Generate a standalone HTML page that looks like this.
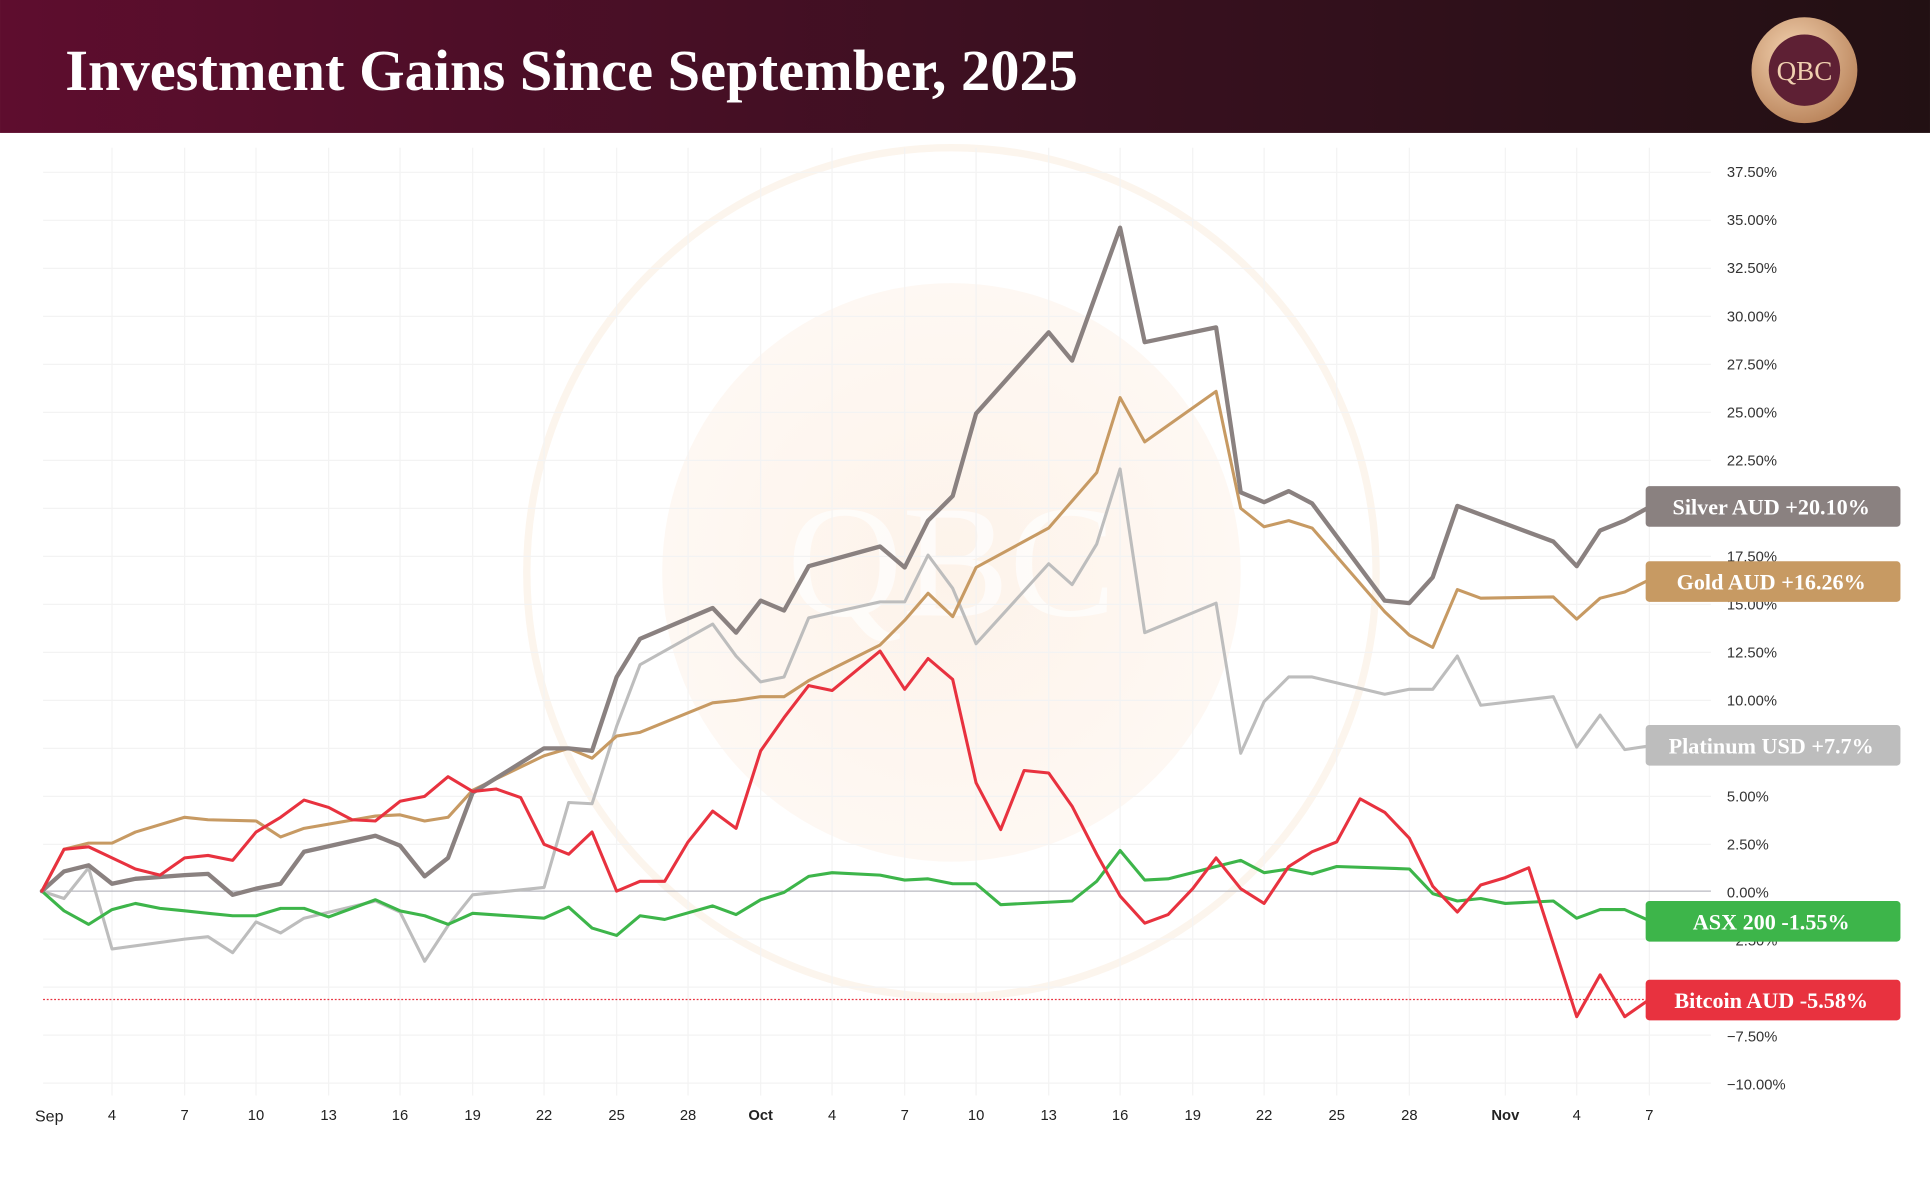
<!DOCTYPE html>
<html><head><meta charset="utf-8"><style>
html,body{margin:0;padding:0;background:#fff;}
svg{display:block;}
</style></head><body>
<svg width="1930" height="1181" viewBox="0 0 1568 959.5" xmlns="http://www.w3.org/2000/svg">
<defs>
<linearGradient id="hd" x1="0" x2="1" y1="0" y2="0">
<stop offset="0" stop-color="#5e0d2e"/><stop offset="0.55" stop-color="#3a1020"/><stop offset="1" stop-color="#221013"/>
</linearGradient>
<radialGradient id="gold" cx="0.4" cy="0.35" r="0.7">
<stop offset="0" stop-color="#f3d2b0"/><stop offset="1" stop-color="#b9835a"/>
</radialGradient>
<radialGradient id="wm" cx="0.5" cy="0.5" r="0.5">
<stop offset="0" stop-color="#fdf3ea"/><stop offset="1" stop-color="#fef8f3"/>
</radialGradient>
</defs>
<rect x="0" y="0" width="1568" height="959.5" fill="#fff"/>
<rect x="0" y="0" width="1568" height="108" fill="url(#hd)"/>
<text x="53" y="73" font-family="Liberation Serif, serif" font-weight="bold" font-size="47.5" fill="#fff">Investment Gains Since September, 2025</text>
<circle cx="1466" cy="57" r="43" fill="url(#gold)"/>
<circle cx="1466" cy="57" r="29" fill="#5e2034"/>
<text x="1466" y="65" text-anchor="middle" font-family="Liberation Serif, serif" font-size="22" fill="#f0d0b0">QBC</text>

<!-- watermark -->
<circle cx="773" cy="465" r="345" fill="none" stroke="#fcf5ed" stroke-width="6"/>
<circle cx="773" cy="465" r="235" fill="url(#wm)"/>
<text x="773" y="500" text-anchor="middle" font-family="Liberation Serif, serif" font-size="130" fill="#fff" opacity="0.7">QBC</text>

<!-- grid -->
<g stroke="#f3f3f3" stroke-width="1">
<line x1="35" x2="1390" y1="140" y2="140"/><line x1="35" x2="1390" y1="179" y2="179"/><line x1="35" x2="1390" y1="218" y2="218"/><line x1="35" x2="1390" y1="257" y2="257"/><line x1="35" x2="1390" y1="296" y2="296"/><line x1="35" x2="1390" y1="335" y2="335"/><line x1="35" x2="1390" y1="374" y2="374"/><line x1="35" x2="1390" y1="413" y2="413"/><line x1="35" x2="1390" y1="452" y2="452"/><line x1="35" x2="1390" y1="491" y2="491"/><line x1="35" x2="1390" y1="530" y2="530"/><line x1="35" x2="1390" y1="569" y2="569"/><line x1="35" x2="1390" y1="608" y2="608"/><line x1="35" x2="1390" y1="647" y2="647"/><line x1="35" x2="1390" y1="686" y2="686"/><line x1="35" x2="1390" y1="763" y2="763"/><line x1="35" x2="1390" y1="802" y2="802"/><line x1="35" x2="1390" y1="841" y2="841"/><line x1="35" x2="1390" y1="880" y2="880"/>
<line x1="91" x2="91" y1="120" y2="890"/><line x1="150" x2="150" y1="120" y2="890"/><line x1="208" x2="208" y1="120" y2="890"/><line x1="267" x2="267" y1="120" y2="890"/><line x1="325" x2="325" y1="120" y2="890"/><line x1="384" x2="384" y1="120" y2="890"/><line x1="442" x2="442" y1="120" y2="890"/><line x1="501" x2="501" y1="120" y2="890"/><line x1="559" x2="559" y1="120" y2="890"/><line x1="618" x2="618" y1="120" y2="890"/><line x1="676" x2="676" y1="120" y2="890"/><line x1="735" x2="735" y1="120" y2="890"/><line x1="793" x2="793" y1="120" y2="890"/><line x1="852" x2="852" y1="120" y2="890"/><line x1="910" x2="910" y1="120" y2="890"/><line x1="969" x2="969" y1="120" y2="890"/><line x1="1027" x2="1027" y1="120" y2="890"/><line x1="1086" x2="1086" y1="120" y2="890"/><line x1="1145" x2="1145" y1="120" y2="890"/><line x1="1223" x2="1223" y1="120" y2="890"/><line x1="1281" x2="1281" y1="120" y2="890"/><line x1="1340" x2="1340" y1="120" y2="890"/>
</g>
<line x1="35" x2="1390" y1="724" y2="724" stroke="#b8b8c0" stroke-width="1"/>
<line x1="35" x2="1390" y1="812" y2="812" stroke="#e8323f" stroke-width="1" stroke-dasharray="1.5,1.5"/>

<!-- y labels -->
<g font-family="Liberation Sans, sans-serif" font-size="12" fill="#333">
<text x="1403" y="144">37.50%</text><text x="1403" y="183">35.00%</text><text x="1403" y="222">32.50%</text><text x="1403" y="261">30.00%</text><text x="1403" y="300">27.50%</text><text x="1403" y="339">25.00%</text><text x="1403" y="378">22.50%</text><text x="1403" y="456">17.50%</text><text x="1403" y="495">15.00%</text><text x="1403" y="534">12.50%</text><text x="1403" y="573">10.00%</text><text x="1403" y="651">5.00%</text><text x="1403" y="690">2.50%</text><text x="1403" y="729">0.00%</text><text x="1403" y="768">−2.50%</text><text x="1403" y="846">−7.50%</text><text x="1403" y="885">−10.00%</text>
</g>
<!-- x labels -->
<g font-family="Liberation Sans, sans-serif" font-size="12" fill="#222" text-anchor="middle">
<text x="40" y="911" font-size="13">Sep</text><text x="91" y="910">4</text><text x="150" y="910">7</text><text x="208" y="910">10</text><text x="267" y="910">13</text><text x="325" y="910">16</text><text x="384" y="910">19</text><text x="442" y="910">22</text><text x="501" y="910">25</text><text x="559" y="910">28</text><text x="618" y="910" font-weight="bold">Oct</text><text x="676" y="910">4</text><text x="735" y="910">7</text><text x="793" y="910">10</text><text x="852" y="910">13</text><text x="910" y="910">16</text><text x="969" y="910">19</text><text x="1027" y="910">22</text><text x="1086" y="910">25</text><text x="1145" y="910">28</text><text x="1223" y="910" font-weight="bold">Nov</text><text x="1281" y="910">4</text><text x="1340" y="910">7</text>
</g>

<g fill="none" stroke-linejoin="round" stroke-linecap="round">
<polyline stroke="#bdbdbd" stroke-width="2.5" points="34,724 52,730 72,705 91,771 150,763 169,761 189,774 208,749 228,758 247,746 305,732 325,741 345,781 364,752 384,727 442,721 462,652 481,653 501,590 520,540 579,507 598,533 618,554 637,550 657,502 715,489 735,489 754,451 774,478 793,523 852,458 871,475 891,442 910,381 930,514 988,490 1008,612 1027,570 1047,550 1066,550 1125,564 1145,560 1164,560 1184,533 1203,573 1262,566 1281,607 1300,581 1320,609 1340,606"/>
<polyline stroke="#3db54a" stroke-width="2.5" points="34,724 52,740 72,751 91,739 110,734 130,738 150,740 169,742 189,744 208,744 228,738 247,738 267,745 305,731 325,740 345,744 364,751 384,742 442,746 462,737 481,754 501,760 520,744 540,747 579,736 598,743 618,731 637,725 657,712 676,709 715,711 735,715 754,714 774,718 793,718 813,735 871,732 891,716 910,691 930,715 949,714 969,709 988,704 1008,699 1027,709 1047,706 1066,710 1086,704 1145,706 1164,726 1184,732 1203,730 1223,734 1262,732 1281,746 1300,739 1320,739 1340,748"/>
<polyline stroke="#c79a63" stroke-width="2.5" points="34,724 52,690 72,685 91,685 110,676 150,664 169,666 208,667 228,680 247,673 305,663 325,662 345,667 364,664 384,642 442,614 462,608 481,616 501,598 520,595 579,571 598,569 618,566 637,566 657,553 715,524 735,504 754,482 774,501 793,461 852,429 871,407 891,384 910,323 930,359 988,318 1008,413 1027,428 1047,423 1066,429 1125,497 1145,516 1164,526 1184,479 1203,486 1262,485 1281,503 1300,486 1320,481 1340,471"/>
<polyline stroke="#8a8180" stroke-width="3.5" points="34,724 52,708 72,703 91,718 110,714 150,711 169,710 189,727 208,722 228,718 247,692 305,679 325,687 345,712 364,697 384,644 442,608 462,608 481,610 501,550 520,519 579,494 598,514 618,488 637,496 657,460 715,444 735,461 754,423 774,403 793,336 852,270 871,293 910,185 930,278 988,266 1008,400 1027,408 1047,399 1066,409 1125,488 1145,490 1164,469 1184,411 1262,440 1281,460 1300,431 1320,423 1340,412"/>
<polyline stroke="#e8323f" stroke-width="2.5" points="34,724 52,690 72,688 91,697 110,706 130,711 150,697 169,695 189,699 208,676 228,664 247,650 267,656 286,666 305,667 325,651 345,647 364,631 384,643 403,641 423,648 442,686 462,694 481,676 501,724 520,716 540,716 559,684 579,659 598,673 618,610 637,583 657,557 676,561 715,529 735,560 754,535 774,552 793,636 813,674 832,626 852,628 871,655 891,694 910,728 930,750 949,743 969,722 988,697 1008,722 1027,734 1047,704 1066,692 1086,684 1105,649 1125,660 1145,681 1164,720 1184,741 1203,719 1223,713 1242,705 1281,826 1300,792 1320,826 1340,812"/>
</g>

<g font-family="Liberation Serif, serif" font-weight="bold" font-size="18" fill="#fff" text-anchor="middle">
<rect x="1337" y="395" width="207" height="33" rx="3" fill="#8a8180"/><text x="1439" y="418">Silver AUD +20.10%</text>
<rect x="1337" y="456" width="207" height="33" rx="3" fill="#c79a63"/><text x="1439" y="479">Gold AUD +16.26%</text>
<rect x="1337" y="589" width="207" height="33" rx="3" fill="#bdbdbd"/><text x="1439" y="612">Platinum USD +7.7%</text>
<rect x="1337" y="732" width="207" height="33" rx="3" fill="#3db54a"/><text x="1439" y="755">ASX 200 -1.55%</text>
<rect x="1337" y="796" width="207" height="33" rx="3" fill="#e8323f"/><text x="1439" y="819">Bitcoin AUD -5.58%</text>
</g>
</svg>
</body></html>
